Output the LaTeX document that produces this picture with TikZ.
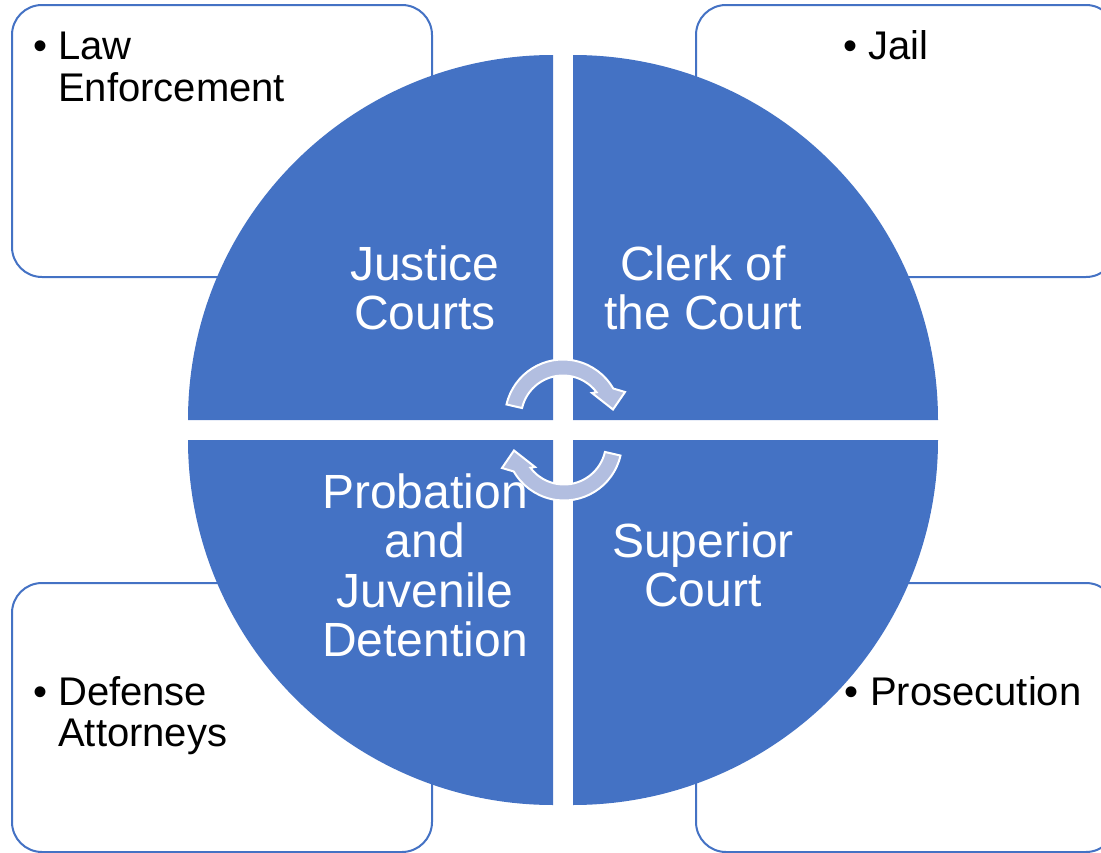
\documentclass[tikz,border=0pt]{standalone}
\usepackage{fontspec}
\setmainfont{Liberation Sans}
\usetikzlibrary{calc}
\definecolor{blu}{HTML}{4472C4}
\definecolor{arrowfill}{RGB}{178,190,224}
\begin{document}
\begin{tikzpicture}[x=0.75pt,y=0.75pt,
  box/.style={draw=blu,line width=1.5pt,fill=white,rounded corners=22.5pt},
  quad/.style={fill=blu},
  btext/.style={anchor=base west,inner sep=0pt,font=\fontsize{30}{31}\selectfont,text=black},
  ctext/.style={anchor=base,inner sep=0pt,font=\fontsize{36}{37}\selectfont,text=white},
  cyc/.style={fill=arrowfill,draw=white,line width=1.5pt,line join=miter},
  cycarrow/.pic={
    \path[cyc] (167:58) arc[start angle=167,end angle=30,radius=58]
      -- (62,25.5) -- (50,8) -- (29,24.5) -- (37:42)
      arc[start angle=37,end angle=167,radius=42] -- cycle;
  }]
\useasboundingbox (0,0) rectangle (1101,-853);
\clip (0,0) rectangle (1101,-853);

% outer boxes
\path[box] (12,-5) rectangle (432,-277);
\path[box] (696,-5) rectangle (1116,-277);
\path[box] (12,-583) rectangle (432,-852);
\path[box] (696,-583) rectangle (1116,-852);

% quarter circles
\fill[quad] (553,-420) -- ++(0,365) arc[start angle=90,end angle=180,radius=365] -- cycle;
\fill[quad] (573,-420) -- ++(365,0) arc[start angle=0,end angle=90,radius=365] -- cycle;
\fill[quad] (553,-440) -- ++(-365,0) arc[start angle=180,end angle=270,radius=365] -- cycle;
\fill[quad] (573,-440) -- ++(0,-365) arc[start angle=270,end angle=360,radius=365] -- cycle;

% box texts
\node[btext] (b1) at (33,-59) {•};
\node[btext] (t1a) at (58,-59) {Law};
\node[btext] (t1b) at (58,-101) {Enforcement};
\node[btext] (b2) at (843,-59) {•};
\node[btext] (t2a) at (868,-59) {Jail};
\node[btext] (b3) at (33,-705) {•};
\node[btext] (t3a) at (58,-705) {Defense};
\node[btext] (t3b) at (58,-746) {Attorneys};
\node[btext] (b4) at (844,-705) {•};
\node[btext] (t4a) at (870,-705) {Prosecution};

% circle texts
\node[ctext] (q1a) at (425,-280) {Justice};
\node[ctext] (q1b) at (425,-329.5) {Courts};
\node[ctext] (q2a) at (703,-280) {Clerk of};
\node[ctext] (q2b) at (703,-329.5) {the Court};
\node[ctext] (q3a) at (425,-508) {Probation};
\node[ctext] (q3b) at (425,-557.5) {and};
\node[ctext] (q3c) at (425,-607) {Juvenile};
\node[ctext] (q3d) at (425,-656.5) {Detention};
\node[ctext] (q4a) at (703,-557) {Superior};
\node[ctext] (q4b) at (703,-606.5) {Court};

% cycle arrows
\pic at (563,-417.5) {cycarrow};
\pic[rotate=180] at (564,-442.5) {cycarrow};
\end{tikzpicture}
\end{document}
